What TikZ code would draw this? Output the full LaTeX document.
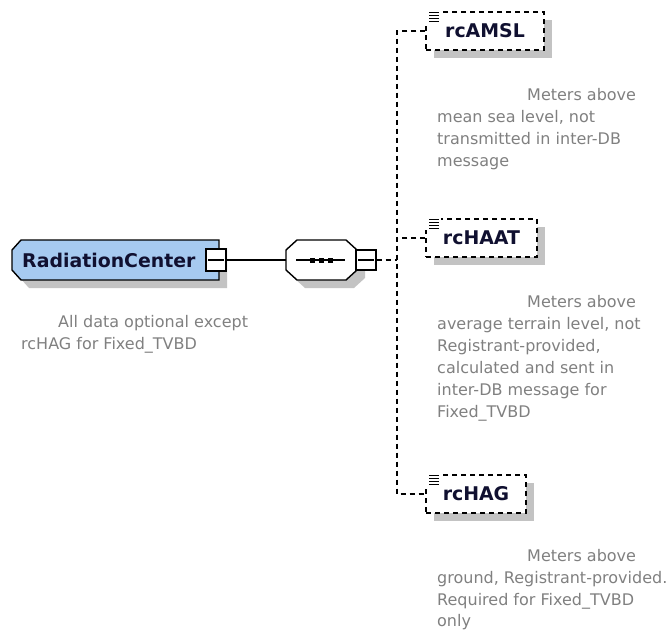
\documentclass[tikz,border=0pt]{standalone}
\usepackage{fontspec}
\setmainfont{DejaVu Sans}
\usetikzlibrary{shadows}
\definecolor{elfill}{RGB}{166,202,240}
\definecolor{elname}{RGB}{16,16,48}
\definecolor{anno}{RGB}{128,128,128}
\definecolor{shadowgray}{RGB}{195,195,195}
\tikzset{
  outline/.style={draw=black, line width=1.4pt},
  optbox/.style={draw=black, line width=1.3pt, dash pattern=on 5pt off 4pt, fill=white,
    inner sep=0pt, minimum height=38pt, font=\bfseries\fontsize{18.9}{22}\selectfont, text=elname,
    drop shadow={shadow xshift=8pt, shadow yshift=-8pt, fill=shadowgray, opacity=1}},
  nametext/.style={font=\bfseries\fontsize{18.9}{22}\selectfont, text=elname, inner sep=0pt},
  annotext/.style={font=\fontsize{16}{22}\selectfont, text=anno, inner sep=0pt, anchor=base west},
  minusbox/.style={draw=black, line width=1.3pt, fill=white, inner sep=0pt},
  wire/.style={line width=1.3pt},
  dwire/.style={line width=1.3pt, dash pattern=on 5pt off 4pt},
  ghost/.style={inner sep=0pt},
}
\begin{document}
\begin{tikzpicture}[x=1pt, y=-1pt]
\useasboundingbox (0,0) rectangle (672,630);

% RadiationCenter element
\node[ghost, minimum width=207, minimum height=40] (rc) at (115.5,260) {};
\fill[shadowgray] (29,248) -- (227,248) -- (227,288) -- (29,288) -- (20,278) -- (20,258) -- cycle;
\filldraw[fill=elfill, outline] (21,240) -- (219,240) -- (219,280) -- (21,280) -- (12,270) -- (12,250) -- cycle;
\node[nametext, anchor=west] (rcname) at (22,260) {RadiationCenter};
\node[minusbox, minimum width=20, minimum height=22] (rcm) at (216,260) {};
\draw[wire] ([xshift=3pt]rcm.west) -- ([xshift=-3pt]rcm.east);

% sequence compositor
\node[ghost, minimum width=71, minimum height=40] (seq) at (321.5,260) {};
\fill[shadowgray] (305,248) -- (354,248) -- (365,258) -- (365,278) -- (354,288) -- (305,288) -- (294,278) -- (294,258) -- cycle;
\filldraw[fill=white, outline] (297,240) -- (346,240) -- (357,250) -- (357,270) -- (346,280) -- (297,280) -- (286,270) -- (286,250) -- cycle;
\draw[wire] (296,260) -- (345,260);
\foreach \c in {312,321,330} \fill (\c-2.5,257.5) rectangle (\c+2.5,262.5);
\node[minusbox, minimum width=20, minimum height=20] (seqm) at (366,260) {};
\draw[wire] ([xshift=3pt]seqm.west) -- ([xshift=-3pt]seqm.east);

\draw[wire] (rcm.east) -- (seq.west);

% child elements
\node[optbox, minimum width=118] (amsl) at (485,31) {rcAMSL};
\node[optbox, minimum width=111] (haat) at (481.5,238) {rcHAAT};
\node[optbox, minimum width=100] (hag) at (476,494) {rcHAG};

\foreach \n in {amsl,haat,hag} {
  \fill[white] ([shift={(-1,-1)}]\n.north west) rectangle ([shift={(16,12)}]\n.north west);
  \foreach \k in {1,4,7,10}
    \draw[line width=1.1pt] ([shift={(4,\k)}]\n.north west) -- ([shift={(14,\k)}]\n.north west);
}

\coordinate (bus) at (397,260);
\draw[dwire] (seqm.east) -- (bus);
\draw[dwire] (amsl.west) -| (bus) |- (hag.west);
\draw[dwire] (haat.west) -- (haat.west -| bus);

% annotations
\node[annotext] (rca1) at (58,327) {All data optional except};
\node[annotext] (rca2) at (21,349) {rcHAG for Fixed\_TVBD};

\node[annotext] (ama1) at (527,100) {Meters above};
\node[annotext] (ama2) at (437,122) {mean sea level, not};
\node[annotext] (ama3) at (437,144) {transmitted in inter-DB};
\node[annotext] (ama4) at (437,166) {message};

\node[annotext] (haa1) at (527,307) {Meters above};
\node[annotext] (haa2) at (437,329) {average terrain level, not};
\node[annotext] (haa3) at (437,351) {Registrant-provided,};
\node[annotext] (haa4) at (437,373) {calculated and sent in};
\node[annotext] (haa5) at (437,395) {inter-DB message for};
\node[annotext] (haa6) at (437,417) {Fixed\_TVBD};

\node[annotext] (hga1) at (527,561) {Meters above};
\node[annotext] (hga2) at (437,583) {ground, Registrant-provided.};
\node[annotext] (hga3) at (437,605) {Required for Fixed\_TVBD};
\node[annotext] (hga4) at (437,626) {only};
\end{tikzpicture}
\end{document}
